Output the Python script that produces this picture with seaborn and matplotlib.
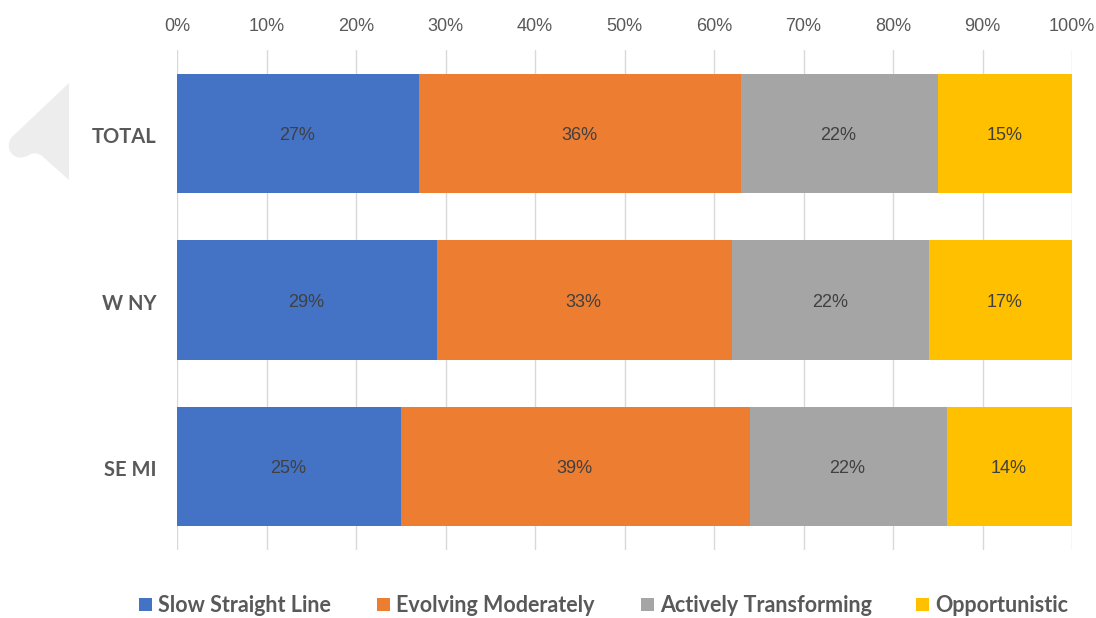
import matplotlib
matplotlib.use("Agg")
import matplotlib.pyplot as plt
from matplotlib.patches import PathPatch, Rectangle
from matplotlib.path import Path
from matplotlib.ticker import PercentFormatter
from matplotlib.transforms import ScaledTranslation
import numpy as np
import pandas as pd
import seaborn as sns

regions = ["TOTAL", "W NY", "SE MI"]
series_names = ["Slow Straight Line", "Evolving Moderately", "Actively Transforming", "Opportunistic"]
slow_line = [27, 29, 25]
evolving = [36, 33, 39]
transforming = [22, 22, 22]
opportunistic = [15, 17, 14]
colors = ["#4472C4", "#ED7D31", "#A5A5A5", "#FFC000"]

sns.set_theme(style="white")
plt.rcParams["font.family"] = ["Liberation Sans", "DejaVu Sans"]

W, H = 1096, 618
fig = plt.figure(figsize=(W / 100, H / 100), dpi=100)
ax = fig.add_axes([177 / W, 1 - 550 / H, (1072 - 177) / W, (550 - 50) / H])

table = pd.DataFrame(
    {"Slow Straight Line": slow_line, "Evolving Moderately": evolving,
     "Actively Transforming": transforming, "Opportunistic": opportunistic},
    index=regions,
)

# Stack the horizontal bars one series at a time, widest cumulative total first.
cumulative = table.cumsum(axis=1)
for name, color in reversed(list(zip(series_names, colors))):
    frame = pd.DataFrame({"region": regions, "end": cumulative[name].values})
    sns.barplot(data=frame, y="region", x="end", color=color, width=0.715,
                saturation=1, ax=ax, order=regions, zorder=3, linewidth=0)

for i, region in enumerate(regions):
    left = 0
    for name in series_names:
        value = table.loc[region, name]
        ax.annotate(f"{value}%", (left + value / 2, i), xytext=(-0.5, -1.5),
                    textcoords="offset points", ha="center", va="center",
                    fontsize=13, color="#404040", zorder=4)
        left += value

ax.set_xlim(0, 100)
ax.set_ylim(2.5, -0.5)
ax.set_xlabel("")
ax.set_ylabel("")
ax.set_xticks(np.arange(0, 101, 10))
ax.xaxis.set_major_formatter(PercentFormatter(100, decimals=0))
ax.xaxis.tick_top()
ax.tick_params(axis="x", length=0, pad=11, labelsize=13, labelcolor="#595959")
ax.tick_params(axis="y", length=0, pad=15)
nudge = ScaledTranslation(0, -1.5 / 100, fig.dpi_scale_trans)
for label in ax.get_yticklabels():
    label.set_family(["Lato", "DejaVu Sans"])
    label.set_fontsize(14.5)
    label.set_fontweight("bold")
    label.set_color("#595959")
    label.set_transform(label.get_transform() + nudge)
ax.grid(axis="x", color="#D9D9D9", linewidth=1, zorder=0)
ax.set_axisbelow(True)
for spine in ax.spines.values():
    spine.set_visible(False)


def fig_xy(x, y):
    return (x / W, 1 - y / H)


# Pale arrow-shaped decoration at the left of the top row, with a rounded nose.
arrow_verts = [
    fig_xy(69, 83), fig_xy(13, 136),
    fig_xy(7, 142), fig_xy(8, 150), fig_xy(12, 154),
    fig_xy(17, 159), fig_xy(24, 158), fig_xy(29, 155),
    fig_xy(34, 152), fig_xy(38, 153), fig_xy(42, 156),
    fig_xy(69, 180), fig_xy(69, 83),
]
arrow_codes = [Path.MOVETO, Path.LINETO,
               Path.CURVE4, Path.CURVE4, Path.CURVE4,
               Path.CURVE4, Path.CURVE4, Path.CURVE4,
               Path.CURVE4, Path.CURVE4, Path.CURVE4,
               Path.LINETO, Path.CLOSEPOLY]
fig.add_artist(PathPatch(Path(arrow_verts, arrow_codes), transform=fig.transFigure,
                         facecolor="#EDEDED", edgecolor="none"))

# Legend row along the bottom edge.
legend_x = [139, 377, 641, 916]
for x, name, color in zip(legend_x, series_names, colors):
    fig.add_artist(Rectangle((x / W, 1 - 611 / H), 13 / W, 13 / H,
                             transform=fig.transFigure, facecolor=color, edgecolor="none"))
    fig.text((x + 19) / W, 1 - 605.5 / H, name, ha="left", va="center",
             fontsize=15.5, fontweight="bold", color="#595959", family=["Lato", "DejaVu Sans"])

fig.savefig("out.png", dpi=100)
